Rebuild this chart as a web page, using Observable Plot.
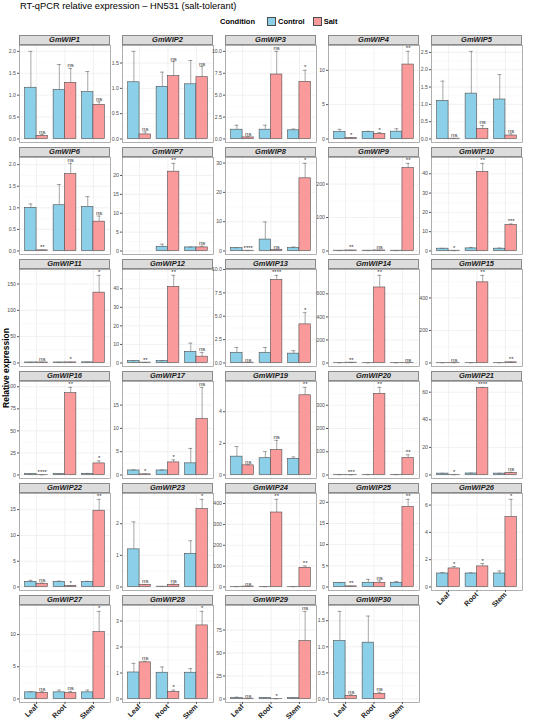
<!DOCTYPE html>
<html><head><meta charset="utf-8">
<script src="https://cdn.jsdelivr.net/npm/d3@7"></script>
<script src="https://cdn.jsdelivr.net/npm/@observablehq/plot@0.6"></script>
<style>
body{margin:0;background:#fff;}
#root{position:relative;width:550px;height:720px;font-family:"Liberation Sans",Arial,Helvetica,sans-serif;overflow:hidden;background:#fff;}
.strip{position:absolute;box-sizing:border-box;background:#dcdcdc;border:0.6px solid #8a8a8a;font-weight:bold;font-style:italic;font-size:7.5px;line-height:8.5px;text-align:center;color:#1a1a1a;}
.cell{position:absolute;}
.title{position:absolute;left:20px;top:1px;font-size:9.3px;color:#000;white-space:nowrap;}
.legend{position:absolute;left:220px;top:16px;height:11px;display:flex;align-items:center;font-size:7.5px;font-weight:bold;color:#000;white-space:nowrap;}
.key{display:inline-block;width:9px;height:9px;box-sizing:border-box;border:0.7px solid #4d4d4d;margin:0 2px 0 0;}
.ytitle{position:absolute;left:6px;top:368px;transform:translate(-50%,-50%) rotate(-90deg);font-size:8.5px;font-weight:bold;white-space:nowrap;color:#000;}
</style></head><body><div id="root"></div>
<script>
const genes = ["GmWIP1","GmWIP2","GmWIP3","GmWIP4","GmWIP5","GmWIP6","GmWIP7","GmWIP8","GmWIP9","GmWIP10",
  "GmWIP11","GmWIP12","GmWIP13","GmWIP14","GmWIP15","GmWIP16","GmWIP17","GmWIP19","GmWIP20","GmWIP21",
  "GmWIP22","GmWIP23","GmWIP24","GmWIP25","GmWIP26","GmWIP27","GmWIP28","GmWIP29","GmWIP30"];
const tissues = ["Leaf","Root","Stem"];
const conditions = ["Control","Salt"];
const conditionColors = ["#8BCFE8","#FA9A9A"];

// order per gene: Leaf-Control, Leaf-Salt, Root-Control, Root-Salt, Stem-Control, Stem-Salt
const means = [
  [1.17,0.07,1.12,1.28,1.07,0.78],
  [1.12,0.09,1.03,1.24,1.08,1.22],
  [1.06,0.18,1.06,7.36,0.99,6.52],
  [1.03,0.14,1.03,0.75,1.07,10.84],
  [1.10,0.01,1.31,0.29,1.14,0.10],
  [1.00,0.015,1.06,1.78,1.02,0.68],
  [null,null,1.12,21.0,0.95,0.95],
  [1.0,0.1,3.9,0.3,1.0,24.8],
  [1.0,1.5,1.0,1.6,1.0,248],
  [1.2,0.15,1.35,41.0,1.2,13.5],
  [1.0,1.0,1.0,1.1,1.2,133.6],
  [1.03,0.2,1.0,41.0,6.0,3.4],
  [1.07,0.03,1.07,8.88,1.0,4.13],
  [1.0,3.0,1.0,655,1.0,1.0],
  [1.0,1.0,1.0,496,1.0,4.0],
  [1.0,0.1,1.1,92.7,1.2,13.1],
  [0.97,0.14,0.97,2.7,2.5,12.0],
  [1.16,0.61,1.06,1.58,1.02,5.04],
  [1.0,0.5,1.0,349,1.0,73],
  [1.0,0.15,1.1,63.0,1.0,1.5],
  [1.0,0.63,1.0,0.2,1.0,14.8],
  [1.19,0.07,0.01,0.07,1.05,2.46],
  [1.0,2.0,1.0,357,1.0,92],
  [1.0,0.15,1.0,1.0,1.0,18.9],
  [0.99,1.36,0.99,1.51,0.99,5.13],
  [1.03,0.94,1.03,0.94,1.03,10.4],
  [1.02,1.41,1.01,0.27,1.01,2.83],
  [1.0,0.3,1.0,0.1,1.0,63.0],
  [1.11,0.06,1.08,0.10,null,null]
];
const sds = [
  [0.83,0.03,0.58,0.33,0.47,0.07],
  [0.61,0.05,0.29,0.29,0.47,0.21],
  [0.51,0.08,0.51,2.64,0.14,1.32],
  [0.37,0.05,0.09,0.18,0.43,1.92],
  [0.57,0.005,1.22,0.10,0.72,0.05],
  [0.09,0.005,0.48,0.25,0.24,0.13],
  [null,null,0.69,2.2,0.08,0.34],
  [0.1,0.02,6.0,0.05,0.35,5.1],
  [0.05,0.3,0.05,0.3,0.05,14],
  [0.15,0.03,0.5,4.4,0.3,0.5],
  [0.1,0.2,0.1,0.2,0.2,32.8],
  [0.17,0.05,0.2,6.2,4.7,2.3],
  [0.59,0.02,0.59,0.49,0.31,1.25],
  [0.1,0.5,0.1,105,0.1,0.2],
  [0.1,0.2,0.1,43,0.1,0.5],
  [0.1,0.02,0.1,6.6,0.6,2.9],
  [0.13,0.06,0.13,0.55,3.2,6.8],
  [0.64,0.04,0.42,0.61,0.12,0.5],
  [0.1,0.1,0.1,28,0.1,14],
  [0.2,0.03,0.2,0.5,0.2,0.5],
  [0.3,0.12,0.15,0.05,0.1,2.2],
  [0.87,0.01,0.005,0.02,0.41,0.31],
  [0.1,0.3,0.1,63,0.1,9],
  [0.05,0.02,0.8,0.45,0.3,1.8],
  [0.07,0.14,0.05,0.21,0.19,1.29],
  [0.1,0.19,0.35,0.24,0.35,3.2],
  [0.35,0.04,0.22,0.07,0.16,0.54],
  [1.0,0.1,0.3,0.05,0.3,32.3],
  [0.57,0.02,0.51,0.03,null,null]
];
// significance of Salt vs Control per tissue: Leaf, Root, Stem
const sigLabels = [
  ["ns","ns","ns"],["ns","ns","ns"],["ns","ns","*"],["*","*","**"],["ns","ns","ns"],
  ["**","ns","ns"],[null,"**","ns"],["****","ns","*"],["**","ns","**"],["*","**","***"],
  ["ns","*","*"],["**","**","ns"],["ns","****","*"],["**","**","ns"],["ns","**","**"],
  ["****","**","*"],["*","*","ns"],["ns","ns","**"],["***","**","**"],["*","****","ns"],
  ["ns","*","**"],["ns","ns","*"],["ns","**","**"],["**","ns","**"],["*","*","*"],
  ["ns","ns","*"],["ns","*","*"],["ns","*","ns"],["ns","ns",null]
];
const yTicks = [
  [0,0.5,1,1.5,2],[0,0.5,1,1.5],[0,2.5,5,7.5,10],[0,5,10],[0,0.5,1,1.5,2,2.5],
  [0,0.5,1,1.5,2],[0,5,10,15,20],[0,10,20,30],[0,100,200],[0,10,20,30,40],
  [0,50,100,150],[0,10,20,30,40],[0,2.5,5,7.5,10],[0,200,400,600],[0,200,400],
  [0,25,50,75,100],[0,5,10,15],[0,2,4],[0,100,200,300],[0,20,40,60],
  [0,5,10,15],[0,1,2],[0,100,200,300,400],[0,5,10,15,20],[0,2,4,6],
  [0,5,10],[0,1,2,3],[0,25,50,75],[0,0.5,1,1.5]
];

const root = document.getElementById("root");
root.insertAdjacentHTML("beforeend",
  `<div class="title">RT-qPCR relative expression – HN531 (salt-tolerant)</div>
   <div class="legend"><span style="margin-right:12px">Condition</span>
     <span class="key" style="background:${conditionColors[0]}"></span><span style="margin-right:8px">${conditions[0]}</span>
     <span class="key" style="background:${conditionColors[1]}"></span><span>${conditions[1]}</span></div>
   <div class="ytitle">Relative expression</div>`);

const NCOL = 5, PW = 91, PH = 97, ML = 18, MR = 2, STRIP = 9.5;
const colLeft = c => 19 + 103 * c;
const rowTop = r => 35 + 112 * r;

genes.forEach((gene, g) => {
  const r = Math.floor(g / NCOL), c = g % NCOL;
  const bottom = g + NCOL >= genes.length;
  const rows = [];
  tissues.forEach((t, ti) => conditions.forEach((cond, ci) => {
    const m = means[g][ti * 2 + ci];
    if (m == null) return;
    const s = sds[g][ti * 2 + ci];
    rows.push({tissue: t, pos: ti + 1, condition: cond, ci, mean: m, sd: s, top: m + s,
      sig: ci === 1 ? sigLabels[g][ti] : null});
  }));
  const M = d3.max(rows, d => d.top);
  const domain = [-0.04 * M, 1.067 * M];
  const ticks = yTicks[g];
  const dec = d3.max(ticks, t => (String(t).split(".")[1] || "").length);
  const step = ticks[1] - ticks[0];
  const minor = [];
  for (let v = ticks[0] + step / 2; v <= domain[1]; v += step) minor.push(v);
  const half = 0.4;
  const x1 = d => d.pos + (d.ci === 0 ? -half : 0);
  const x2 = d => d.pos + (d.ci === 0 ? 0 : half);
  const xc = d => d.pos + (d.ci === 0 ? -half / 2 : half / 2);
  const capW = 0.07;

  const marks = [
    Plot.ruleY(minor, {stroke: "#f3f3f3", strokeWidth: 0.4}),
    Plot.ruleY(ticks, {stroke: "#e8e8e8", strokeWidth: 0.6}),
    Plot.ruleX([1, 2, 3], {stroke: "#e8e8e8", strokeWidth: 0.6}),
    Plot.rectY(rows, {x1, x2, y1: 0, y2: "mean", fill: d => conditionColors[d.ci], stroke: "#4d4d4d", strokeWidth: 0.6}),
    Plot.ruleX(rows, {x: xc, y1: "mean", y2: "top", stroke: "#6b6b6b", strokeWidth: 0.6}),
    Plot.ruleY(rows, {y: "top", x1: d => xc(d) - capW, x2: d => xc(d) + capW, stroke: "#6b6b6b", strokeWidth: 0.6}),
    Plot.text(rows.filter(d => d.sig), {x: xc, y: "top", text: "sig", lineAnchor: "bottom", dy: -1, fontSize: 6, fill: "#333"}),
    Plot.axisY({ticks, tickFormat: v => v.toFixed(dec), tickSize: 2, tickPadding: 1.5, fontSize: 5.2, fill: "#4d4d4d", stroke: "#555", label: null}),
    Plot.frame({stroke: "#7a7a7a", strokeWidth: 0.6})
  ];
  if (bottom) marks.push(Plot.axisX({ticks: [1, 2, 3], tickFormat: i => tissues[i - 1], tickRotate: -45,
    tickSize: 2, tickPadding: 1, fontSize: 7.2, fontWeight: "bold", fill: "#222", stroke: "#555", label: null}));

  const MB = bottom ? 24 : 0;
  const chart = Plot.plot({
    width: ML + PW + MR, height: PH + MB,
    marginLeft: ML, marginRight: MR, marginTop: 0, marginBottom: MB,
    style: {background: "transparent", overflow: "visible", fontFamily: '"Liberation Sans",Arial,sans-serif'},
    x: {type: "linear", domain: [0.4, 3.6], axis: null},
    y: {domain, axis: null},
    marks
  });

  const strip = document.createElement("div");
  strip.className = "strip";
  strip.textContent = gene;
  Object.assign(strip.style, {left: colLeft(c) + "px", top: rowTop(r) + "px", width: PW + "px", height: STRIP + 0.5 + "px"});
  const cell = document.createElement("div");
  cell.className = "cell";
  Object.assign(cell.style, {left: (colLeft(c) - ML) + "px", top: (rowTop(r) + STRIP) + "px", width: (ML + PW + MR) + "px"});
  cell.appendChild(chart);
  root.appendChild(cell);
  root.appendChild(strip);
});
</script></body></html>
